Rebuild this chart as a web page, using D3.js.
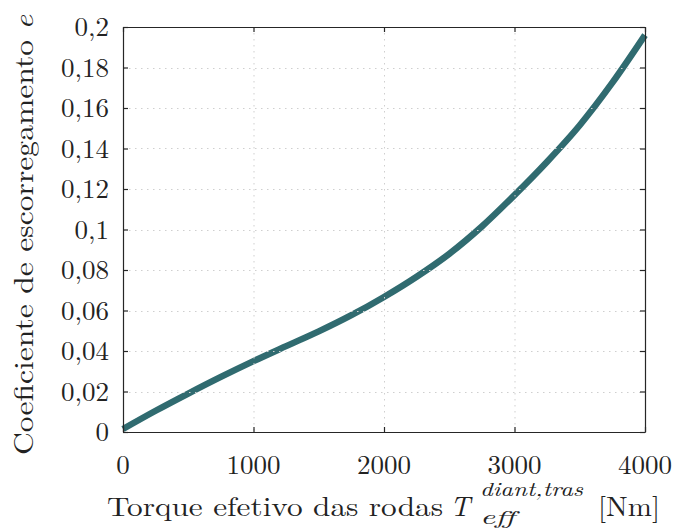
<!DOCTYPE html>
<html><head><meta charset="utf-8">
<script src="https://cdn.jsdelivr.net/npm/d3@7"></script>
<style>body{margin:0;background:#fff}svg{display:block}</style>
</head><body>
<svg id="c" width="678" height="529"></svg>
<script>
const torque = [0,250,500,750,1000,1250,1500,1750,2000,2250,2500,2750,3000,3250,3500,3750,4000];
const slip = [0.0015,0.0105,0.019,0.0272,0.035,0.0424,0.0497,0.0577,0.0667,0.0767,0.088,0.1015,0.117,0.1335,0.1515,0.1725,0.196];
const xTicks = [0,1000,2000,3000,4000];
const yTicks = [0,0.02,0.04,0.06,0.08,0.1,0.12,0.14,0.16,0.18,0.2];
const yTickLabels = ["0","0,02","0,04","0,06","0,08","0,1","0,12","0,14","0,16","0,18","0,2"];

const L=123,R=645,T=27,B=432;
const svg=d3.select("#c");
const x=d3.scaleLinear().domain([0,4000]).range([L,R]);
const y=d3.scaleLinear().domain([0,0.2]).range([B,T]);
const FF='"Latin Modern Roman", "Liberation Serif", serif';

svg.append("path").datum(torque.map((t,i)=>[t,slip[i]]))
  .attr("d",d3.line().x(d=>x(d[0])).y(d=>y(d[1])).curve(d3.curveMonotoneX))
  .attr("fill","none").attr("stroke","#306b70").attr("stroke-width",6.5);

const g=svg.append("g").attr("stroke","#cfcfcf").attr("stroke-width",1).attr("stroke-dasharray","1.5,4.5");
xTicks.slice(1,-1).forEach(v=>g.append("line").attr("x1",x(v)+0.5).attr("x2",x(v)+0.5).attr("y1",T).attr("y2",B));
yTicks.slice(1,-1).forEach(v=>g.append("line").attr("y1",Math.round(y(v))+0.5).attr("y2",Math.round(y(v))+0.5).attr("x1",L).attr("x2",R));

const ax=svg.append("g");
ax.append("g").attr("transform",`translate(0,${B})`).call(d3.axisBottom(x).tickValues(xTicks).tickSizeInner(-5).tickSizeOuter(0).tickFormat(""));
ax.append("g").attr("transform",`translate(0,${T})`).call(d3.axisTop(x).tickValues(xTicks).tickSizeInner(-5).tickSizeOuter(0).tickFormat(""));
ax.append("g").attr("transform",`translate(${L},0)`).call(d3.axisLeft(y).tickValues(yTicks).tickSizeInner(-5).tickSizeOuter(0).tickFormat(""));
ax.append("g").attr("transform",`translate(${R},0)`).call(d3.axisRight(y).tickValues(yTicks).tickSizeInner(-5).tickSizeOuter(0).tickFormat(""));
ax.selectAll("path,line").attr("stroke","#262626").attr("stroke-width",1.2);

function t(xp,yp,size,str){return svg.append("text").attr("x",xp).attr("y",yp).attr("font-size",size).attr("fill","#222").style("font-family",FF).text(str);}
xTicks.forEach(v=>t(x(v),474,27,String(v)).attr("text-anchor","middle"));
yTicks.forEach((v,i)=>t(109,y(v)+9,27,yTickLabels[i]).attr("text-anchor","end"));

t(107,516,27,"Torque efetivo das rodas").attr("textLength",336).attr("lengthAdjust","spacingAndGlyphs");
t(450,516,28,"T").attr("font-style","italic");
t(480,496,19,"diant,tras").attr("font-style","italic").attr("textLength",103).attr("lengthAdjust","spacingAndGlyphs");
t(480,524,19,"eff").attr("font-style","italic").attr("textLength",35).attr("lengthAdjust","spacingAndGlyphs");
t(598,516,27,"[Nm]").attr("textLength",62).attr("lengthAdjust","spacingAndGlyphs");

const yl=svg.append("text").attr("transform","translate(33,455) rotate(-90)").attr("font-size",27).attr("fill","#222").style("font-family",FF);
yl.append("tspan").text("Coeficiente de escorregamento ");
yl.append("tspan").attr("font-style","italic").text("e");
yl.attr("textLength",440).attr("lengthAdjust","spacingAndGlyphs");
</script>
</body></html>
